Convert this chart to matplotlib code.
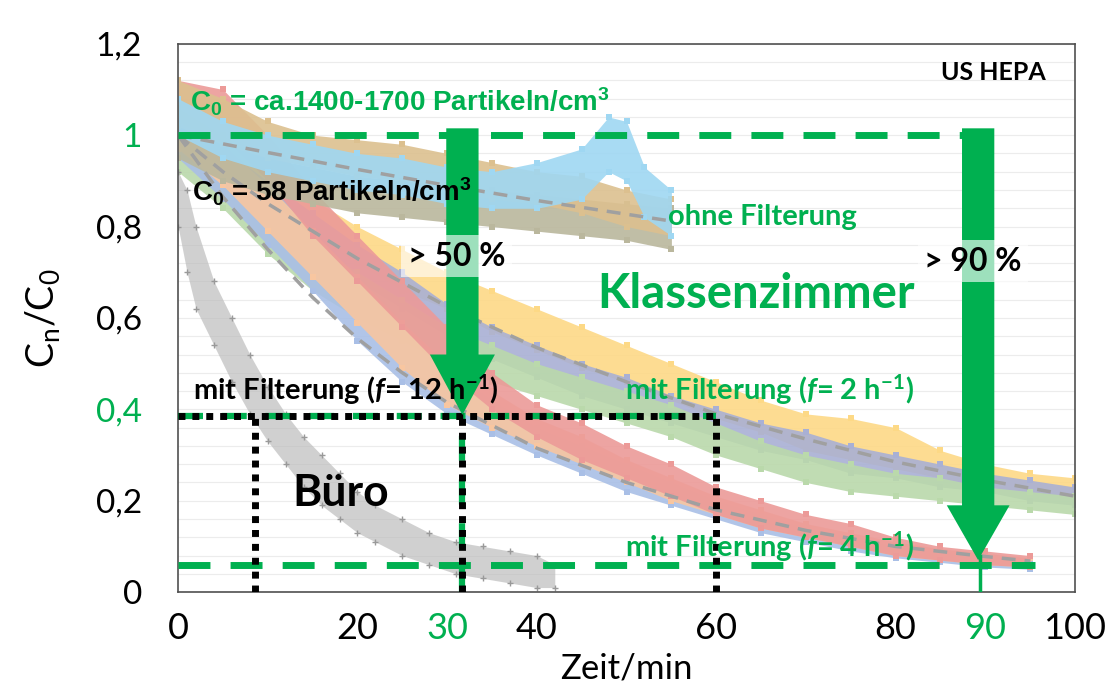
import matplotlib
matplotlib.use("Agg")
import matplotlib.pyplot as plt
import numpy as np
from matplotlib.patches import FancyArrow

# ---- data (Zeit/min vs. Cn/C0) ----
# scatter clouds are given as lower/upper envelope of the point cloud
t_f4 = [0, 5, 10, 15, 20, 25, 30, 35, 40, 45, 50, 55, 60, 65, 70, 75, 80, 85, 90, 95]
red_lo = [1.02, 1.00, 0.90, 0.78, 0.68, 0.58, 0.48, 0.40, 0.34, 0.29, 0.25, 0.21, 0.17, 0.14, 0.12, 0.10, 0.08, 0.07, 0.06, 0.055]
red_hi = [1.12, 1.10, 1.00, 0.88, 0.78, 0.68, 0.58, 0.48, 0.41, 0.37, 0.32, 0.28, 0.23, 0.20, 0.17, 0.15, 0.12, 0.10, 0.09, 0.08]
blue_lo = [0.95, 0.86, 0.76, 0.66, 0.55, 0.46, 0.39, 0.345, 0.30, 0.26, 0.22, 0.19, 0.16, 0.13, 0.11, 0.09, 0.075, 0.065, 0.055, 0.05]
blue_hi = [1.02, 0.95, 0.86, 0.78, 0.68, 0.58, 0.49, 0.42, 0.36, 0.32, 0.28, 0.24, 0.20, 0.17, 0.14, 0.12, 0.10, 0.09, 0.08, 0.07]
orange_lo = [0.97, 0.89, 0.79, 0.69, 0.59, 0.49, 0.41, 0.36, 0.32, 0.28, 0.24, 0.20, 0.17, 0.14, 0.12, 0.10, 0.08, 0.07, 0.06, 0.055]
orange_hi = [1.05, 0.98, 0.89, 0.79, 0.69, 0.59, 0.50, 0.44, 0.38, 0.34, 0.29, 0.25, 0.21, 0.18, 0.15, 0.13, 0.11, 0.095, 0.085, 0.075]

t_f2 = [0, 5, 10, 15, 20, 25, 30, 35, 40, 45, 50, 55, 60, 65, 70, 75, 80, 85, 90, 95, 100]
yellow_lo = [0.98, 0.92, 0.86, 0.78, 0.72, 0.66, 0.62, 0.57, 0.53, 0.49, 0.46, 0.42, 0.38, 0.35, 0.31, 0.29, 0.27, 0.25, 0.23, 0.22, 0.20]
yellow_hi = [1.06, 1.00, 0.94, 0.86, 0.80, 0.75, 0.70, 0.66, 0.62, 0.58, 0.54, 0.50, 0.46, 0.42, 0.39, 0.38, 0.36, 0.31, 0.28, 0.26, 0.25]
gblue_lo = [0.96, 0.90, 0.83, 0.75, 0.68, 0.62, 0.56, 0.51, 0.47, 0.43, 0.40, 0.37, 0.34, 0.31, 0.29, 0.26, 0.25, 0.23, 0.22, 0.20, 0.19]
gblue_hi = [1.03, 0.97, 0.90, 0.83, 0.76, 0.70, 0.63, 0.58, 0.54, 0.50, 0.47, 0.43, 0.40, 0.37, 0.35, 0.32, 0.30, 0.28, 0.26, 0.245, 0.23]
green_lo = [0.92, 0.84, 0.74, 0.66, 0.60, 0.55, 0.50, 0.46, 0.43, 0.40, 0.37, 0.34, 0.30, 0.27, 0.24, 0.22, 0.21, 0.20, 0.19, 0.18, 0.17]
green_hi = [1.00, 0.92, 0.84, 0.76, 0.70, 0.64, 0.58, 0.54, 0.50, 0.47, 0.44, 0.41, 0.37, 0.33, 0.30, 0.28, 0.26, 0.25, 0.23, 0.22, 0.21]

t_ohne = [0, 5, 10, 15, 20, 25, 30, 35, 40, 45, 50, 55]
olive_lo = [0.95, 0.90, 0.87, 0.85, 0.83, 0.82, 0.81, 0.80, 0.79, 0.78, 0.77, 0.75]
olive_hi = [1.02, 0.98, 0.95, 0.93, 0.91, 0.90, 0.89, 0.88, 0.87, 0.86, 0.85, 0.84]
tan_lo = [1.02, 0.98, 0.95, 0.93, 0.91, 0.90, 0.88, 0.86, 0.85, 0.83, 0.80, 0.78]
tan_hi = [1.12, 1.08, 1.03, 1.00, 0.99, 0.98, 0.96, 0.94, 0.92, 0.91, 0.88, 0.86]
t_lblue = [0, 5, 10, 15, 20, 25, 30, 35, 40, 45, 48, 50, 52, 55]
lblue_lo = [1.00, 0.95, 0.92, 0.90, 0.88, 0.87, 0.85, 0.84, 0.84, 0.86, 0.92, 0.90, 0.82, 0.78]
lblue_hi = [1.08, 1.03, 1.00, 0.98, 0.96, 0.95, 0.93, 0.92, 0.94, 0.97, 1.04, 1.03, 0.93, 0.88]

t_buro = [0, 1, 2, 4, 6, 8, 10, 12, 14, 16, 18, 20, 22, 25, 28, 31, 34, 37, 40, 42]
buro_lo = [0.80, 0.70, 0.62, 0.54, 0.46, 0.39, 0.33, 0.28, 0.23, 0.19, 0.16, 0.13, 0.11, 0.08, 0.06, 0.04, 0.03, 0.02, 0.01, 0.01]
buro_hi = [0.92, 0.88, 0.80, 0.68, 0.60, 0.52, 0.45, 0.39, 0.34, 0.30, 0.26, 0.22, 0.19, 0.16, 0.13, 0.11, 0.10, 0.09, 0.08, 0.06]

# fitted curves (gray dashed)
fit_ohne_t = [0, 10, 20, 30, 40, 50, 55]
fit_ohne = [1.0, 0.962, 0.925, 0.89, 0.857, 0.827, 0.812]
fit_f2_t = [0, 5, 10, 15, 20, 30, 40, 50, 60, 70, 80, 90, 100]
fit_f2 = [1.0, 0.92, 0.85, 0.79, 0.73, 0.625, 0.535, 0.46, 0.39, 0.335, 0.285, 0.245, 0.21]
fit_f4_t = [0, 5, 10, 15, 20, 25, 30, 40, 50, 60, 70, 80, 90, 95]
fit_f4 = [1.0, 0.865, 0.75, 0.645, 0.555, 0.48, 0.415, 0.315, 0.24, 0.18, 0.135, 0.10, 0.078, 0.068]

x_ticks = [0, 20, 30, 40, 60, 80, 90, 100]
y_ticks = [0, 0.2, 0.4, 0.6, 0.8, 1.0, 1.2]
y_labels = ['0', '0,2', '0,4', '0,6', '0,8', '1', '1,2']

GREEN = '#00b050'
CAL = 'Lato'
ARIAL = 'Liberation Sans'

plt.rcParams['font.family'] = [CAL, 'DejaVu Sans']
plt.rcParams['mathtext.fontset'] = 'custom'
plt.rcParams['mathtext.it'] = 'Lato:italic:bold'
plt.rcParams['mathtext.rm'] = 'Lato:bold'

fig = plt.figure(figsize=(11.06, 6.95), dpi=100)
ax = fig.add_axes([0.161, 0.148, 0.811, 0.789])

# point clouds
clouds = [
    (t_f2, yellow_lo, yellow_hi, '#fdd986'),
    (t_f2, gblue_lo, gblue_hi, '#a9b0d4'),
    (t_f2, green_lo, green_hi, '#bad9ab'),
    (t_f4, blue_lo, blue_hi, '#a9bfe6'),
    (t_f4, orange_lo, orange_hi, '#f8c6a0'),
    (t_f4, red_lo, red_hi, '#ec9a98'),
    (t_ohne, olive_lo, olive_hi, '#bab79d'),
    (t_ohne, tan_lo, tan_hi, '#dcc08f'),
    (t_lblue, lblue_lo, lblue_hi, '#9fd7f2'),
]
for t, lo, hi, c in clouds:
    ax.fill_between(t, lo, hi, color=c, alpha=0.9, lw=0, zorder=1)
    ax.scatter(t + t, lo + hi, s=14, marker='s', color=c, lw=0, zorder=1)

ax.fill_between(t_buro, buro_lo, buro_hi, color='#b8b8b8', alpha=0.65, lw=0, zorder=1)
ax.scatter(t_buro + t_buro, buro_lo + buro_hi, s=22, marker='+', color='#999999', lw=1, zorder=1)

# fit lines
for t, y in [(fit_ohne_t, fit_ohne), (fit_f2_t, fit_f2), (fit_f4_t, fit_f4)]:
    ax.plot(t, y, color='#a0a0a0', lw=2.5, ls=(0, (4, 2.6)), zorder=2)

# reference lines
gdash = (0, (4.6, 2.9))
ax.plot([0, 90], [1.0, 1.0], color=GREEN, lw=5, ls=gdash, zorder=3)
ax.plot([0, 95.5], [0.06, 0.06], color=GREEN, lw=5, ls=gdash, zorder=3)
ax.plot([0, 60], [0.385, 0.385], color=GREEN, lw=4.5, ls=(0, (4, 3)), zorder=3)
ax.plot([31.7, 31.7], [0, 0.385], color=GREEN, lw=4.5, ls=(0, (4, 3)), zorder=3)

dot = (0, (1, 1))
ax.plot([0, 60], [0.385, 0.385], color='black', lw=5, ls=dot, zorder=3.5)
for xv in [8.6, 31.7, 60]:
    ax.plot([xv, xv], [0, 0.385], color='black', lw=5, ls=dot, zorder=3.5)

# arrows
ax.add_patch(FancyArrow(31.7, 1.015, 0, 0.388 - 1.015, width=3.6, head_width=7.25,
                        head_length=0.132, length_includes_head=True,
                        color=GREEN, lw=0, zorder=4))
ax.add_patch(FancyArrow(89.2, 1.015, 0, 0.07 - 1.015, width=3.6, head_width=7.0,
                        head_length=0.12, length_includes_head=True,
                        color=GREEN, lw=0, zorder=4))
ax.plot([89.4, 89.4], [0, 0.08], color=GREEN, lw=2.5, zorder=4)

# texts
box = dict(boxstyle='square,pad=0.2', facecolor='white', edgecolor='none', alpha=0.62)
ax.text(1.3, 1.072, r'C$\mathregular{_0}$ = ca.1400-1700 Partikeln/cm$\mathregular{^3}$',
        color=GREEN, fontsize=20, fontweight='bold', family=ARIAL, va='center', zorder=5)
ax.text(1.5, 0.875, r'C$\mathregular{_0}$ = 58 Partikeln/cm$\mathregular{^3}$',
        color='black', fontsize=20, fontweight='bold', family=ARIAL, va='center', zorder=5)
ax.text(96.7, 1.138, 'US HEPA', color='black', fontsize=18, fontweight='bold',
        ha='right', va='center', zorder=5)
ax.text(54.6, 0.822, 'ohne Filterung', color=GREEN, fontsize=21, fontweight='bold',
        va='center', zorder=5)
ax.text(46.7, 0.653, 'Klassenzimmer', color=GREEN, fontsize=34, fontweight='bold',
        va='center', zorder=5)
ax.text(25.6, 0.735, '> 50 %', color='black', fontsize=23, fontweight='bold',
        va='center', bbox=box, zorder=5)
ax.text(83.2, 0.724, '> 90 %', color='black', fontsize=23, fontweight='bold',
        va='center', bbox=box, zorder=5)
ax.text(1.7, 0.443, r'mit Filterung ($\mathit{f}$= 12 h$\mathregular{^{-1}}$)',
        color='black', fontsize=21, fontweight='bold', va='center', zorder=5)
ax.text(49.8, 0.443, r'mit Filterung ($\mathit{f}$= 2 h$\mathregular{^{-1}}$)',
        color=GREEN, fontsize=21, fontweight='bold', va='center', zorder=5)
ax.text(49.8, 0.099, r'mit Filterung ($\mathit{f}$= 4 h$\mathregular{^{-1}}$)',
        color=GREEN, fontsize=21, fontweight='bold', va='center', zorder=5)
ax.text(12.7, 0.217, 'Büro', color='black', fontsize=32, fontweight='bold',
        va='center', zorder=5)

# axes styling
ax.set_xlim(0, 100)
ax.set_ylim(0, 1.2)
ax.set_xticks(x_ticks)
ax.set_xticklabels([str(v) for v in x_ticks])
ax.set_yticks(y_ticks)
ax.set_yticklabels(y_labels)
ax.set_yticks(np.arange(0, 1.21, 0.04), minor=True)
ax.grid(which='both', axis='y', color='#ececec', lw=0.8, zorder=0)
ax.set_axisbelow(True)
ax.tick_params(which='both', length=0)
ax.tick_params(axis='y', labelsize=24, pad=26)
ax.tick_params(axis='x', labelsize=26, pad=14)
for lab in ax.get_xticklabels():
    if lab.get_text() in ('30', '90'):
        lab.set_color(GREEN)
for lab in ax.get_yticklabels():
    if lab.get_text() in ('0,4', '1'):
        lab.set_color(GREEN)
for sp in ax.spines.values():
    sp.set_color('#505050')
    sp.set_linewidth(1.2)

ax.set_xlabel('Zeit/min', fontsize=25, labelpad=6)
ax.set_ylabel(r'C$\mathregular{_n}$/C$\mathregular{_0}$', fontsize=27, labelpad=24)

fig.savefig('out.png', dpi=100)
